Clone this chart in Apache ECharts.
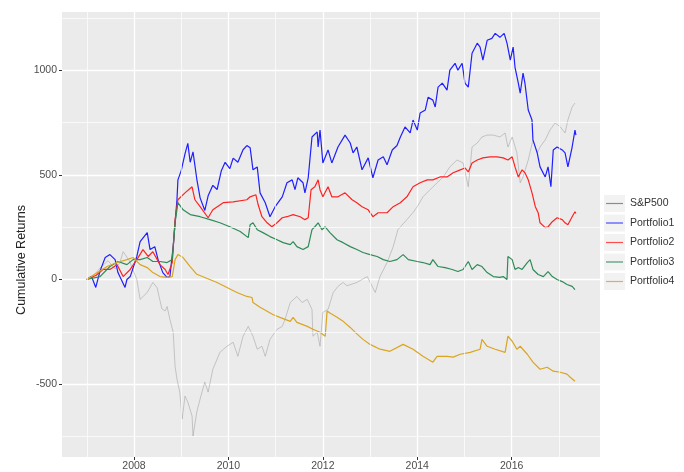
<!DOCTYPE html>
<html><head><meta charset="utf-8">
<script src="https://cdn.jsdelivr.net/npm/echarts@6/dist/echarts.min.js"></script>
<style>html,body{margin:0;padding:0;background:#fff}#c{width:684px;height:472px}</style>
</head><body><div id="c"></div>
<script>
const seriesNames = ['S&P500','Portfolio1','Portfolio2','Portfolio3','Portfolio4'];
const seriesColors = ['#a0a0a0','#1f1fff','#ff2222','#2e8b57','#daa520'];
const legendColors = ['#8c8c8c','#4d4dff','#ff4d4d','#4a9a70','#e0b050'];
const xTickLabels = [2008,2010,2012,2014,2016];
const yTickLabels = [-500,0,500,1000];
const xMinorGrid = [2007,2009,2011,2013,2015,2017];
const yMinorGrid = [-750,-250,250,750,1250];

const sp500 = [[2007.00,0],[2007.15,20],[2007.30,60],[2007.45,90],[2007.60,50],[2007.70,80],[2007.77,133],[2007.90,90],[2008.06,0],[2008.13,-95],[2008.28,-62],[2008.40,-14],[2008.49,-40],[2008.59,-140],[2008.66,-150],[2008.70,-129],[2008.76,-190],[2008.83,-252],[2008.87,-414],[2008.91,-476],[2008.97,-538],[2009.02,-667],[2009.08,-557],[2009.14,-586],[2009.23,-652],[2009.25,-748],[2009.33,-633],[2009.40,-571],[2009.50,-490],[2009.57,-538],[2009.67,-429],[2009.82,-348],[2009.97,-319],[2010.10,-300],[2010.20,-367],[2010.31,-271],[2010.42,-224],[2010.52,-271],[2010.61,-333],[2010.71,-319],[2010.78,-367],[2010.88,-286],[2011.03,-238],[2011.14,-224],[2011.20,-190],[2011.31,-110],[2011.45,-81],[2011.56,-110],[2011.67,-95],[2011.77,-143],[2011.79,-271],[2011.88,-252],[2011.94,-319],[2012.00,-157],[2012.11,-143],[2012.22,-62],[2012.32,-33],[2012.43,-14],[2012.51,-30],[2012.72,-14],[2012.94,14],[2013.11,-62],[2013.21,14],[2013.36,81],[2013.49,157],[2013.59,238],[2013.78,286],[2013.91,320],[2014.00,348],[2014.12,395],[2014.27,429],[2014.42,462],[2014.55,490],[2014.69,538],[2014.84,571],[2014.97,557],[2015.08,443],[2015.16,633],[2015.27,652],[2015.37,681],[2015.48,690],[2015.61,690],[2015.75,681],[2015.86,700],[2015.92,633],[2016.01,681],[2016.11,605],[2016.18,462],[2016.24,490],[2016.35,571],[2016.45,667],[2016.54,605],[2016.60,633],[2016.71,667],[2016.81,714],[2016.92,748],[2017.03,729],[2017.13,700],[2017.19,762],[2017.28,824],[2017.34,843]];

const portfolio1 = [[2007.00,0],[2007.10,15],[2007.19,-38],[2007.28,40],[2007.39,105],[2007.49,119],[2007.60,95],[2007.66,33],[2007.81,-38],[2007.85,0],[2007.92,14],[2008.06,110],[2008.13,181],[2008.28,224],[2008.34,143],[2008.44,157],[2008.51,95],[2008.61,33],[2008.70,10],[2008.76,14],[2008.83,157],[2008.91,381],[2008.93,476],[2009.00,520],[2009.08,600],[2009.14,650],[2009.19,560],[2009.25,610],[2009.33,480],[2009.40,390],[2009.50,330],[2009.57,400],[2009.67,450],[2009.76,430],[2009.85,520],[2009.93,560],[2010.03,530],[2010.10,580],[2010.20,560],[2010.31,620],[2010.39,640],[2010.46,629],[2010.52,524],[2010.61,538],[2010.67,414],[2010.78,367],[2010.88,300],[2010.99,348],[2011.14,395],[2011.24,462],[2011.35,476],[2011.41,429],[2011.47,486],[2011.58,462],[2011.62,414],[2011.69,486],[2011.77,681],[2011.88,705],[2011.90,633],[2011.94,714],[2012.00,557],[2012.11,619],[2012.19,557],[2012.32,633],[2012.47,690],[2012.58,652],[2012.64,605],[2012.72,633],[2012.83,524],[2012.96,581],[2013.06,486],[2013.17,571],[2013.28,586],[2013.36,548],[2013.47,619],[2013.57,640],[2013.64,680],[2013.74,729],[2013.85,700],[2013.91,762],[2014.00,714],[2014.06,795],[2014.17,810],[2014.23,871],[2014.33,857],[2014.38,824],[2014.44,919],[2014.53,938],[2014.63,905],[2014.69,1000],[2014.80,1033],[2014.86,1000],[2014.95,1033],[2015.01,938],[2015.08,919],[2015.16,1081],[2015.27,1129],[2015.33,1110],[2015.39,1048],[2015.48,1143],[2015.58,1152],[2015.65,1176],[2015.75,1157],[2015.84,1176],[2015.90,1129],[2015.97,1048],[2016.03,1110],[2016.07,1014],[2016.14,938],[2016.18,890],[2016.24,986],[2016.28,938],[2016.35,810],[2016.43,762],[2016.45,667],[2016.54,605],[2016.60,538],[2016.71,490],[2016.77,538],[2016.83,443],[2016.88,619],[2016.96,633],[2017.07,619],[2017.13,605],[2017.19,538],[2017.28,633],[2017.34,714],[2017.36,690]];

const portfolio2 = [[2007.00,0],[2007.20,20],[2007.34,48],[2007.49,48],[2007.64,71],[2007.77,14],[2007.92,48],[2008.06,95],[2008.19,143],[2008.30,110],[2008.40,133],[2008.55,71],[2008.66,48],[2008.72,24],[2008.81,81],[2008.87,286],[2008.93,381],[2009.08,414],[2009.23,443],[2009.29,381],[2009.40,348],[2009.57,295],[2009.67,333],[2009.89,367],[2010.10,371],[2010.39,381],[2010.46,395],[2010.58,405],[2010.63,357],[2010.71,300],[2010.82,271],[2010.92,252],[2011.03,271],[2011.14,295],[2011.24,300],[2011.37,310],[2011.52,300],[2011.62,286],[2011.69,295],[2011.75,429],[2011.83,443],[2011.90,476],[2011.94,429],[2012.00,395],[2012.11,443],[2012.19,395],[2012.32,395],[2012.47,414],[2012.62,381],[2012.72,367],[2012.83,348],[2012.96,333],[2013.06,300],[2013.17,319],[2013.21,325],[2013.36,319],[2013.49,348],[2013.64,367],[2013.78,395],[2013.91,443],[2014.06,462],[2014.21,476],[2014.33,476],[2014.48,490],[2014.63,490],[2014.76,510],[2014.91,524],[2015.01,533],[2015.08,514],[2015.16,557],[2015.27,571],[2015.39,581],[2015.54,586],[2015.69,586],[2015.82,581],[2015.92,571],[2016.01,586],[2016.07,538],[2016.14,490],[2016.22,524],[2016.28,510],[2016.35,476],[2016.43,414],[2016.50,348],[2016.56,319],[2016.60,271],[2016.71,248],[2016.77,252],[2016.86,276],[2016.96,295],[2017.07,286],[2017.13,271],[2017.19,262],[2017.28,300],[2017.34,324],[2017.36,315]];

const portfolio3 = [[2007.00,0],[2007.28,14],[2007.49,62],[2007.66,86],[2007.85,71],[2007.98,95],[2008.13,95],[2008.28,105],[2008.40,86],[2008.55,86],[2008.70,81],[2008.81,95],[2008.87,271],[2008.93,367],[2009.04,333],[2009.19,310],[2009.40,300],[2009.61,286],[2009.82,271],[2010.03,252],[2010.25,229],[2010.42,200],[2010.46,262],[2010.52,271],[2010.61,238],[2010.73,224],[2010.88,205],[2011.03,190],[2011.16,176],[2011.31,167],[2011.37,181],[2011.45,157],[2011.58,143],[2011.69,157],[2011.77,238],[2011.83,252],[2011.90,271],[2011.98,238],[2012.05,252],[2012.15,224],[2012.30,190],[2012.43,176],[2012.58,157],[2012.72,143],[2012.85,129],[2013.00,119],[2013.15,110],[2013.28,95],[2013.42,86],[2013.57,95],[2013.70,119],[2013.81,95],[2014.00,86],[2014.12,81],[2014.27,71],[2014.33,95],[2014.44,62],[2014.59,57],[2014.74,48],[2014.86,38],[2014.97,48],[2015.08,86],[2015.16,48],[2015.27,71],[2015.37,62],[2015.48,33],[2015.61,14],[2015.75,10],[2015.82,14],[2015.90,0],[2015.92,110],[2016.01,95],[2016.07,48],[2016.14,57],[2016.22,48],[2016.33,81],[2016.39,95],[2016.45,48],[2016.56,24],[2016.67,14],[2016.77,38],[2016.86,14],[2016.96,0],[2017.07,-10],[2017.17,-24],[2017.28,-33],[2017.34,-48]];

const portfolio4 = [[2007.00,0],[2007.20,30],[2007.43,62],[2007.64,81],[2007.85,95],[2007.98,105],[2008.13,71],[2008.28,57],[2008.40,33],[2008.55,14],[2008.70,10],[2008.81,14],[2008.87,95],[2008.93,119],[2009.04,105],[2009.19,62],[2009.33,25],[2009.55,5],[2009.76,-14],[2009.97,-38],[2010.18,-62],[2010.39,-81],[2010.50,-86],[2010.52,-110],[2010.67,-133],[2010.82,-152],[2010.94,-167],[2011.09,-181],[2011.31,-200],[2011.37,-181],[2011.45,-205],[2011.67,-224],[2011.79,-238],[2011.94,-252],[2012.05,-271],[2012.09,-150],[2012.15,-160],[2012.30,-180],[2012.43,-200],[2012.58,-229],[2012.72,-260],[2012.85,-286],[2013.00,-310],[2013.21,-333],[2013.42,-343],[2013.70,-310],[2013.91,-333],[2014.12,-367],[2014.33,-395],[2014.42,-367],[2014.63,-367],[2014.76,-371],[2014.91,-357],[2015.12,-348],[2015.33,-333],[2015.37,-286],[2015.48,-319],[2015.65,-333],[2015.86,-348],[2015.92,-271],[2016.01,-295],[2016.11,-333],[2016.18,-319],[2016.33,-357],[2016.45,-395],[2016.60,-429],[2016.75,-419],[2016.88,-438],[2017.03,-443],[2017.17,-452],[2017.24,-467],[2017.34,-486]];

const allData = [sp500, portfolio1, portfolio2, portfolio3, portfolio4];

const FONT = 'Liberation Sans, Arial, sans-serif';
const chart = echarts.init(document.getElementById('c'), null, {renderer: 'canvas'});

const legendTop = 195, legendStep = 19.5, legendLeft = 604;
const keyBoxes = seriesNames.map((n, i) => ({
  type: 'rect', z: 0,
  shape: {x: legendLeft, y: legendTop + i * legendStep, width: 21, height: 17},
  style: {fill: '#f2f2f2'}
}));
const keyLines = seriesNames.map((n, i) => ({
  type: 'line', z: 1,
  shape: {x1: legendLeft + 2, y1: legendTop + i * legendStep + 8.5, x2: legendLeft + 19, y2: legendTop + i * legendStep + 8.5},
  style: {stroke: legendColors[i], lineWidth: 1.2}
}));

const dataSeries = seriesNames.map((name, i) => ({
  name: name,
  type: 'line',
  data: allData[i],
  showSymbol: false,
  symbol: 'none',
  z: 3,
  lineStyle: {
    color: seriesColors[i],
    width: i === 0 ? 1 : 1.2,
    opacity: i === 0 ? 0.55 : 1
  },
  itemStyle: {color: seriesColors[i]},
  emphasis: {disabled: true},
  animation: false
}));

const minorLineStyle = {color: '#ffffff', width: 0.7, type: 'solid'};
const gridSeries = {
  name: 'minorGrid',
  type: 'line',
  data: [],
  z: 1,
  silent: true,
  animation: false,
  markLine: {
    silent: true,
    animation: false,
    symbol: ['none', 'none'],
    label: {show: false},
    lineStyle: minorLineStyle,
    emphasis: {disabled: true},
    data: xMinorGrid.map(v => ({xAxis: v})).concat(yMinorGrid.map(v => ({yAxis: v})))
  }
};

chart.setOption({
  animation: false,
  backgroundColor: '#ffffff',
  grid: {
    left: 62, right: 84, top: 12, bottom: 14,
    show: true, backgroundColor: '#ebebeb', borderWidth: 0
  },
  xAxis: {
    type: 'value',
    min: 2006.475, max: 2017.87,
    splitNumber: 5,
    axisLine: {show: false, onZero: false},
    axisTick: {show: true, length: 3, customValues: xTickLabels, lineStyle: {color: '#333333', width: 1}},
    axisLabel: {customValues: xTickLabels, margin: 4, fontSize: 10.5, color: '#4d4d4d', fontFamily: FONT,
      formatter: v => String(v)},
    splitLine: {show: true, lineStyle: {color: '#ffffff', width: 1.3}},
    minorSplitLine: {show: false}
  },
  yAxis: {
    type: 'value',
    min: -848, max: 1278,
    splitNumber: 5,
    axisLine: {show: false, onZero: false},
    axisTick: {show: true, length: 3, customValues: yTickLabels, lineStyle: {color: '#333333', width: 1}},
    axisLabel: {customValues: yTickLabels, margin: 5, fontSize: 10.5, color: '#4d4d4d', fontFamily: FONT,
      formatter: v => String(v)},
    splitLine: {show: true, lineStyle: {color: '#ffffff', width: 1.3}}
  },
  legend: {
    orient: 'vertical',
    left: legendLeft, top: legendTop,
    padding: 0,
    itemWidth: 21, itemHeight: 17, itemGap: legendStep - 17,
    selectedMode: false,
    icon: 'rect',
    itemStyle: {opacity: 0},
    textStyle: {fontSize: 10.5, color: '#333333', fontFamily: FONT},
    data: seriesNames.map(n => ({name: n, icon: 'rect', itemStyle: {opacity: 0}}))
  },
  graphic: keyBoxes.concat(keyLines).concat([{
    type: 'text',
    x: 22, y: 260,
    rotation: Math.PI / 2,
    style: {text: 'Cumulative Returns', fontSize: 12.5, fill: '#222222', fontFamily: FONT,
      align: 'center', verticalAlign: 'middle'}
  }]),
  series: [gridSeries].concat(dataSeries)
});
</script>
</body></html>
